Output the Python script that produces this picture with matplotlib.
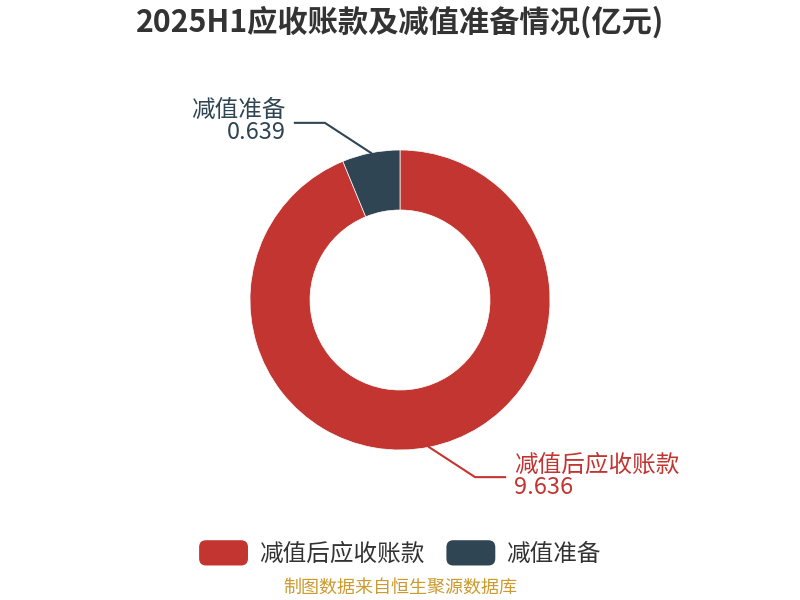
import matplotlib
matplotlib.use("Agg")
import matplotlib.pyplot as plt
import numpy as np
from matplotlib.patches import FancyBboxPatch, Patch
from matplotlib.legend_handler import HandlerPatch

plt.rcParams['font.family'] = ['Noto Sans CJK SC', 'DejaVu Sans']

title = "2025H1应收账款及减值准备情况(亿元)"
categories = ["减值后应收账款", "减值准备"]
values = [9.636, 0.639]
colors = ["#c23531", "#2f4554"]
source = "制图数据来自恒生聚源数据库"


class RoundHandler(HandlerPatch):
    def create_artists(self, legend, orig_handle, xdescent, ydescent,
                       width, height, fontsize, trans):
        p = FancyBboxPatch((-xdescent, -ydescent), width, height,
                           boxstyle="round,pad=0,rounding_size=5",
                           facecolor=orig_handle.get_facecolor(),
                           edgecolor="none", transform=trans)
        return [p]


def main() -> None:
    fig = plt.figure(figsize=(8, 6), dpi=100)
    ax = fig.add_axes([0, 0, 1, 1])
    ax.set_xlim(0, 800)
    ax.set_ylim(0, 600)
    ax.set_aspect("equal")
    ax.axis("off")

    cx, cy, r = 400, 300, 150
    wedges, _ = ax.pie(values, colors=colors, startangle=90, counterclock=False,
                       center=(cx, cy), radius=r,
                       wedgeprops=dict(width=60, edgecolor="white", linewidth=0.5))
    ax.set_xlim(0, 800)
    ax.set_ylim(0, 600)

    # leader lines + labels
    for w, name, val, col in zip(wedges, categories, values, colors):
        mid = np.deg2rad((w.theta1 + w.theta2) / 2)
        x0, y0 = cx + r * np.cos(mid), cy + r * np.sin(mid)
        sx = 1 if np.cos(mid) >= 0 else -1
        sy = 1 if np.sin(mid) >= 0 else -1
        x1, y1 = x0 + sx * 46, y0 + sy * 30
        x2 = x1 + sx * 30
        ax.plot([x0, x1, x2], [y0, y1, y1], color=col, lw=1.5)
        ha = "left" if sx > 0 else "right"
        ax.text(x2 + sx * 9, y1 + 1, f"{name}\n{val}", ha=ha, va="center",
                fontsize=17, color=col, linespacing=0.95)

    fig.text(0.5, 1 - 22 / 600, title, ha="center", va="center",
             fontsize=21.8, fontweight="bold", color="#333333")

    handles = [Patch(facecolor=c, label=n) for c, n in zip(colors, categories)]
    fig.legend(handles=handles, loc="center", bbox_to_anchor=(0.5, 1 - 553 / 600),
               ncol=2, frameon=False, fontsize=17, handlelength=2.07,
               handleheight=1.27, handletextpad=0.47, columnspacing=0.93,
               labelcolor="#333333",
               handler_map={Patch: RoundHandler()})

    fig.text(0.5, 1 - 588 / 600, source, ha="center", va="center",
             fontsize=13, color="#cc9a2e")

    fig.savefig("out.png", dpi=100)


if __name__ == "__main__":
    main()
